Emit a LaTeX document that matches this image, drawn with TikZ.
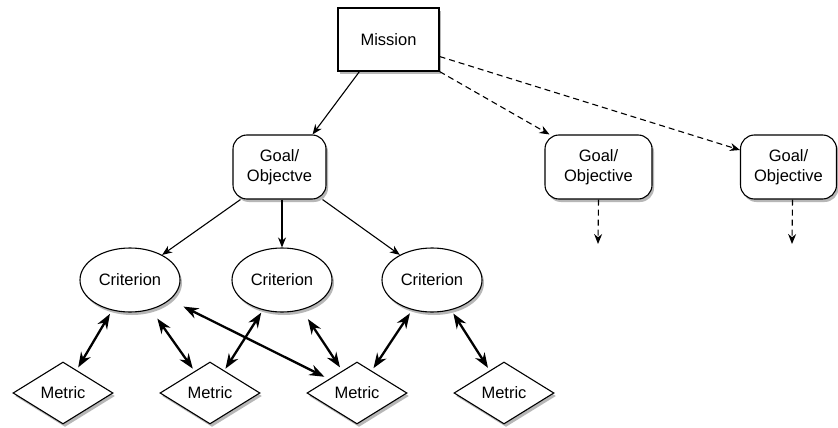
\documentclass[tikz,border=0pt]{standalone}
\usepackage{fontspec}
\setmainfont{Liberation Sans}
\usetikzlibrary{arrows.meta,shapes.geometric,shadows}
\begin{document}
\begin{tikzpicture}[x=1pt,y=-1pt,
  font=\fontsize{16.5}{20}\selectfont,
  shad/.style={drop shadow={shadow xshift=2pt,shadow yshift=-3pt,opacity=0.4,fill=black!70}},
  missionbox/.style={draw,fill=white,line width=1.1pt,minimum width=101pt,minimum height=63pt,inner sep=0pt,shad},
  goalbox/.style={draw,fill=white,line width=1.1pt,rounded corners=14pt,minimum height=64pt,inner sep=0pt,align=center,shad},
  crit/.style={ellipse,draw,fill=white,line width=1.1pt,minimum width=100pt,minimum height=64pt,inner sep=0pt,shad},
  metric/.style={diamond,draw,fill=white,line width=1.1pt,minimum width=100pt,minimum height=62pt,inner sep=0pt,shad},
  arr/.style={-{Stealth[length=10pt,width=8pt]},line width=1.1pt},
  darr/.style={-{Stealth[length=10pt,width=8pt]},line width=1.1pt,dash pattern=on 6pt off 4pt},
  dbl/.style={{Stealth[length=15pt,width=11pt]}-{Stealth[length=15pt,width=11pt]},line width=2.3pt}]
\fill[white] (0,0) rectangle (838,428);
\useasboundingbox (0,0) rectangle (838,428);

\node[missionbox] (m) at (388.5,39.5) {Mission};
\node[goalbox,minimum width=93pt] (g1) at (279.5,167) {Goal/\\Objectve};
\node[goalbox,minimum width=107pt] (g2) at (598.5,167) {Goal/\\Objective};
\node[goalbox,minimum width=96pt] (g3) at (788.5,167) {Goal/\\Objective};

\node[crit] (c1) at (130,280) {Criterion};
\node[crit] (c2) at (282,280) {Criterion};
\node[crit] (c3) at (432,280) {Criterion};

\node[metric] (k1) at (63,393) {Metric};
\node[metric] (k2) at (210,393) {Metric};
\node[metric] (k3) at (357,393) {Metric};
\node[metric] (k4) at (504,393) {Metric};

\coordinate (e2) at (598,244);
\coordinate (e3) at (792,244);

\draw[arr] ([xshift=22pt]m.south west) -- ([xshift=-14pt]g1.north east);
\draw[darr] (m.south east) -- ([xshift=5pt]g2.north west);
\draw[darr] ([yshift=-17pt]m.east) -- ([yshift=17pt]g3.west);
\draw[darr] (g2.south) -- (e2);
\draw[darr] ([xshift=4pt]g3.south) -- (e3);

\draw[arr] ([xshift=8pt]g1.south west) -- (c1.38);
\draw[arr] ([xshift=2.5pt]g1.south) -- (c2.north);
\draw[arr] ([xshift=-4pt]g1.south east) -- (c3.142);

\draw[dbl,shorten <=4pt,shorten >=3pt] (c1) -- (k1);
\draw[dbl,shorten <=11pt,shorten >=3pt] (c1) -- (k2);
\draw[dbl,shorten <=3pt,shorten >=2pt] (c2) -- (k2);
\draw[dbl,shorten <=15pt,shorten >=5pt] (c1) -- (k3);
\draw[dbl,shorten <=11pt,shorten >=4pt] (c2) -- (k3);
\draw[dbl,shorten <=4pt,shorten >=3pt] (c3) -- (k3);
\draw[dbl,shorten <=4pt,shorten >=3pt] (c3) -- (k4);
\end{tikzpicture}
\end{document}
